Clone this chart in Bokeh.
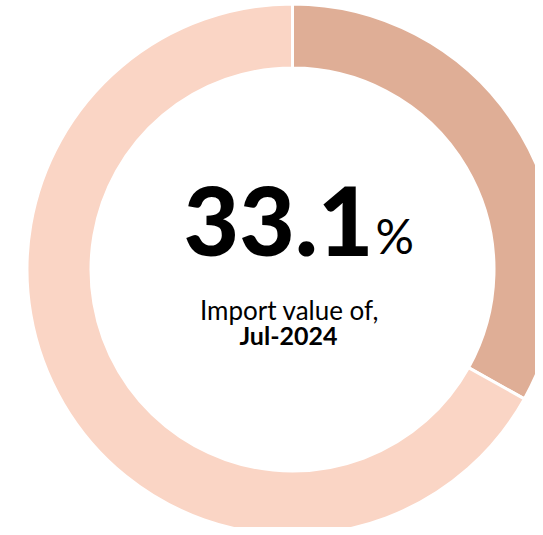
import numpy as np
from bokeh.plotting import figure
from bokeh.models import Range1d, ColumnDataSource
from bokeh.core.properties import value
from bokeh.embed import file_html
from bokeh.resources import INLINE

# Data
segments = ["Import value", "Other"]
shares = [33.1, 66.9]
colors = ["#DFAE96", "#FAD5C5"]
period_label = "Jul-2024"
caption = "Import value of,"

W, H = 535, 527
p = figure(width=W, height=H, output_backend="svg", toolbar_location=None,
           x_range=Range1d(0, W), y_range=Range1d(0, H), min_border=0)
p.axis.visible = False
p.grid.visible = False
p.outline_line_color = None
p.background_fill_color = "white"
p.border_fill_color = "white"

vals = np.array(shares)
frac = vals / vals.sum()
ends = np.pi / 2 - np.cumsum(frac) * 2 * np.pi
starts = np.concatenate([[np.pi / 2], ends[:-1]])

cx, cy = 292, 258
src = ColumnDataSource(dict(start=ends, end=starts, color=colors, seg=segments))
p.annular_wedge(x=cx, y=cy, inner_radius=201.5, outer_radius=265.5,
                start_angle="start", end_angle="end", direction="anticlock",
                fill_color="color", line_color="white", line_width=3, source=src)

font = value("Lato")
p.text(x=[373], y=[307], text=[f"{shares[0]}"], text_font=value("Lato Black, Lato"),
       text_font_style="bold", text_font_size="96px", text_align="right",
       text_baseline="alphabetic", text_color="black")
p.text(x=[375], y=[292], text=["%"], text_font=font,
       text_font_size="48px", text_align="left",
       text_baseline="alphabetic", text_color="black")
p.text(x=[289], y=[218], text=[caption], text_font=font,
       text_font_size="26px", text_align="center",
       text_baseline="alphabetic", text_color="black")
p.text(x=[288], y=[193], text=[period_label], text_font=font,
       text_font_style="bold", text_font_size="25px", text_align="center",
       text_baseline="alphabetic", text_color="black")

open("out.html", "w").write(file_html(p, INLINE))
